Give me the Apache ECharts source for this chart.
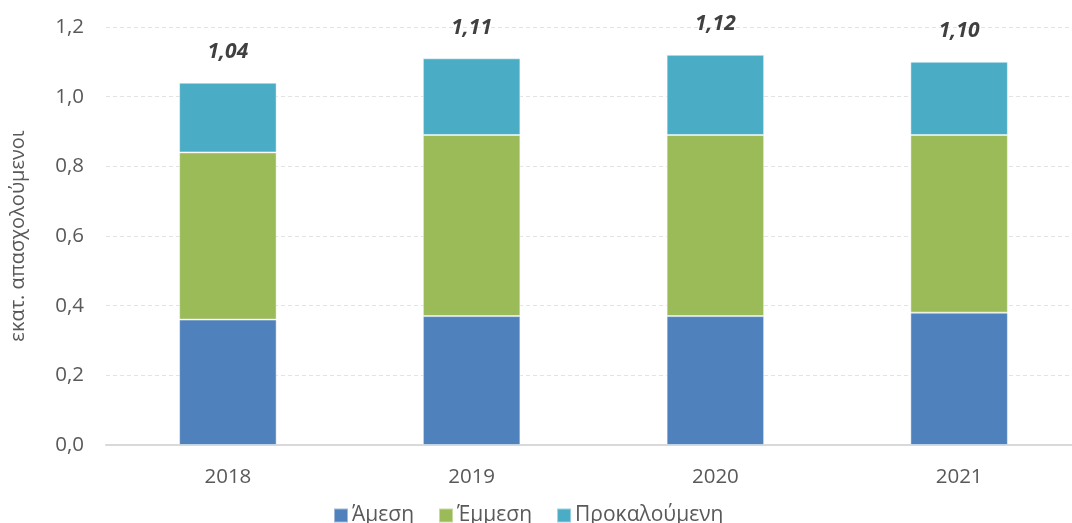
<!DOCTYPE html>
<html>
<head>
<meta charset="utf-8">
<script src="https://cdn.jsdelivr.net/npm/echarts@6/dist/echarts.min.js"></script>
<style>
  html, body { margin: 0; padding: 0; background: #fff; overflow: hidden; }
  #chart { width: 1090px; height: 523px; }
</style>
</head>
<body>
<div id="chart"></div>
<script>
// Employment (millions) by effect type, per year
const years = ['2018', '2019', '2020', '2021'];
const direct = [0.36, 0.37, 0.37, 0.38];
const indirect = [0.48, 0.52, 0.52, 0.51];
const induced = [0.20, 0.22, 0.23, 0.21];
const totals = [1.04, 1.11, 1.12, 1.10];
const yTicks = [0, 0.2, 0.4, 0.6, 0.8, 1.0, 1.2];

const fmt = v => v.toFixed(2).replace('.', ',');
const font = '"Open Sans", "Noto Sans", sans-serif';

const chart = echarts.init(document.getElementById('chart'), null, { renderer: 'canvas' });
const barBorder = { borderColor: 'rgba(255,255,255,0.45)', borderWidth: 1 };

chart.setOption({
  animation: false,
  textStyle: { fontFamily: font },
  grid: { left: 105, top: 27, width: 976, height: 418, containLabel: false },
  legend: {
    top: 500,
    left: 328,
    itemWidth: 14,
    itemHeight: 14,
    itemGap: 24,
    icon: 'rect',
    textStyle: { fontSize: 21, lineHeight: 21, color: '#595959', fontFamily: font, padding: [0, 0, 0, -1] },
    data: ['Άμεση', 'Έμμεση', 'Προκαλούμενη']
  },
  xAxis: {
    type: 'category',
    data: years,
    axisLine: { lineStyle: { color: '#d9d9d9', width: 2 } },
    axisTick: { show: false },
    axisLabel: { fontSize: 20.5, color: '#595959', margin: 22, fontFamily: font }
  },
  yAxis: {
    type: 'value',
    min: yTicks[0],
    max: yTicks[yTicks.length - 1],
    interval: 0.2,
    name: 'εκατ. απασχολούμενοι',
    nameLocation: 'middle',
    nameGap: 78,
    nameTextStyle: { fontSize: 20, color: '#595959', fontFamily: font },
    axisLine: { show: false },
    axisTick: { show: false },
    axisLabel: {
      fontSize: 20.5, color: '#595959', margin: 22, fontFamily: font,
      formatter: v => v.toFixed(1).replace('.', ',')
    },
    splitLine: { lineStyle: { color: '#e3e3e3', type: [4, 3], width: 1 } }
  },
  series: [
    {
      name: 'Άμεση', type: 'bar', stack: 'total', data: direct,
      barWidth: '40%', itemStyle: Object.assign({ color: '#4F81BD' }, barBorder)
    },
    {
      name: 'Έμμεση', type: 'bar', stack: 'total', data: indirect,
      barWidth: '40%', itemStyle: Object.assign({ color: '#9BBB59' }, barBorder)
    },
    {
      name: 'Προκαλούμενη', type: 'bar', stack: 'total', data: induced,
      barWidth: '40%', itemStyle: Object.assign({ color: '#4BACC6' }, barBorder),
      label: {
        show: true,
        position: 'top',
        distance: 20,
        fontSize: 21,
        fontWeight: 'bold',
        fontStyle: 'italic',
        color: '#404040',
        fontFamily: font,
        formatter: p => fmt(totals[p.dataIndex])
      }
    }
  ]
});
</script>
</body>
</html>
